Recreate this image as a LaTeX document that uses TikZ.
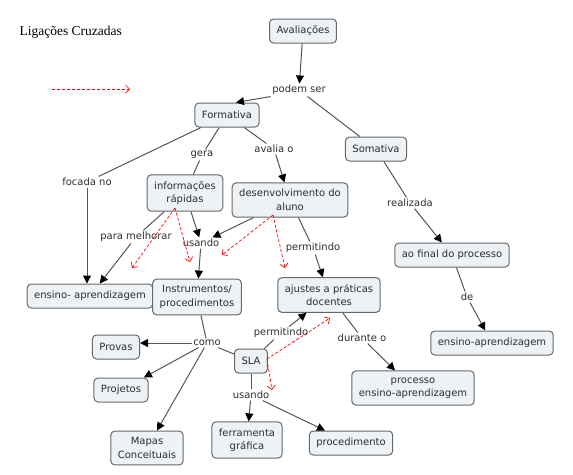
\documentclass[tikz,border=0pt]{standalone}
\usepackage{fontspec}
\setmainfont{DejaVu Sans}
\newfontfamily\titlefont{Liberation Serif}
\usetikzlibrary{arrows.meta}
\definecolor{cmapfill}{RGB}{236,242,245}
\definecolor{cmapline}{RGB}{105,105,105}
\definecolor{cmapedge}{RGB}{85,85,85}
\definecolor{cmaptext}{RGB}{45,45,45}
\tikzset{
	concept/.style = {draw=cmapline, fill=cmapfill, rounded corners=4pt, line width=1pt,
	 align=center, inner xsep=7pt, inner ysep=6.5pt, minimum height=24pt, text=cmaptext,
	 font=\fontsize{10}{13.5}\selectfont}}
\tikzset{
	linkword/.style = {inner sep=1.5pt, text=cmaptext, font=\fontsize{10}{12}\selectfont},
	link/.style = {draw=cmapedge, line width=1pt},
	linkto/.style = {link, -{Triangle[length=8pt, width=8pt, color=black]}},
	crosslink/.style = {draw=red, line width=0.7pt, dash pattern=on 3pt off 2pt,
	 -{Straight Barb[length=4pt, width=8pt]}}}

\begin{document}
\begin{tikzpicture}[x=1pt, y=-1pt]
\useasboundingbox (0,0) rectangle (573,474);

% NODES
% title and legend
\node (title) [anchor=west, font=\titlefont\fontsize{13.5}{16}\selectfont] at (16,32) {Ligações Cruzadas};
\coordinate (legstart) at (52,89);
\coordinate (legend) at (130,89);
% top
\node (avaliacoes) [concept] at (303,31) {Avaliações};
\node (podem) [linkword] at (299,90) {podem ser};
\node (formativa) [concept] at (227,115) {Formativa};
\node (somativa) [concept] at (376,149) {Somativa};
% formativa branch
\node (focada) [linkword] at (87,182) {focada no};
\node (gera) [linkword] at (202,155) {gera};
\node (avalia) [linkword] at (274,149) {avalia o};
\node (info) [concept] at (185,193) {informações\\rápidas};
\node (desenv) [concept] at (290,200) {desenvolvimento do\\aluno};
\node (melhorar) [linkword] at (136,237) {para melhorar};
\node (usandoA) [linkword] at (201,243) {usando};
\node (permitA) [linkword] at (313,248) {permitindo};
\node (ensinoL) [concept] at (90,296) {ensino- aprendizagem};
\node (instrum) [concept] at (197,297) {Instrumentos/\\procedimentos};
\node (ajustes) [concept] at (329,295) {ajustes a práticas\\docentes};
% somativa branch
\node (realizada) [linkword] at (410,203) {realizada};
\node (final) [concept] at (452,255) {ao final do processo};
\node (de) [linkword] at (467,297) {de};
\node (ensinoR) [concept] at (492,343) {ensino-aprendizagem};
% lower part
\node (permitB) [linkword] at (281,333) {permitindo};
\node (durante) [linkword] at (362,338) {durante o};
\node (como) [linkword] at (207,343) {como};
\node (provas) [concept] at (116,347) {Provas};
\node (sla) [concept] at (251,361) {SLA};
\node (processo) [concept] at (413,388) {processo\\ensino-aprendizagem};
\node (projetos) [concept] at (121,390) {Projetos};
\node (usandoB) [linkword] at (251,395) {usando};
\node (mapas) [concept] at (147,448) {Mapas\\Conceituais};
\node (ferramenta) [concept] at (247,440) {ferramenta\\gráfica};
\node (procedimento) [concept] at (351,443) {procedimento};
% cross link ends
\coordinate (infoX) at (175,208);
\coordinate (infoXa) at (132,268);
\coordinate (infoXb) at (190,262);
\coordinate (desenvX) at (273,215);
\coordinate (desenvXa) at (222,255);
\coordinate (desenvXb) at (285,268);
\coordinate (slaX) at (267,359);
\coordinate (slaXa) at (330,318);
\coordinate (slaXb) at (272,390);

%CONNECTIONS
\draw [linkto] (avaliacoes) -- (podem);
\draw [linkto] (podem.south west) -- ([xshift=9pt]formativa.north);
\draw [link] (podem) -- (somativa);
\draw [link] (formativa) -- (focada);
\draw [linkto] (focada) -- (focada |- ensinoL.north);
\draw [link] (formativa) -- (gera);
\draw [link] (gera) -- (info);
\draw [link] (formativa) -- (avalia);
\draw [linkto] (avalia) -- (desenv);
\draw [link] (info) -- (melhorar);
\draw [linkto] (melhorar) -- (ensinoL);
\draw [linkto] (info) -- (usandoA);
\draw [linkto] (desenv) -- (usandoA);
\draw [linkto] (usandoA) -- (instrum);
\draw [link] (desenv) -- (permitA);
\draw [linkto] (permitA) -- (ajustes);
\draw [link] (somativa) -- (realizada);
\draw [linkto] (realizada) -- (final);
\draw [link] (final) -- (de);
\draw [linkto] (de) -- (ensinoR);
\draw [link] (ajustes) -- (durante);
\draw [linkto] (durante) -- (processo);
\draw [link] (instrum) -- (como);
\draw [linkto] (como.west) -- ([yshift=4pt]provas.east);
\draw [linkto] (como) -- (projetos);
\draw [linkto] (como) -- (mapas);
\draw [link] (como) -- (sla);
\draw [link] (sla) -- (permitB);
\draw [linkto] (permitB) -- (ajustes);
\draw [link] (sla) -- (usandoB);
\draw [linkto] (usandoB) -- (ferramenta);
\draw [linkto] (usandoB) -- (procedimento);
% cross links
\draw [crosslink] (legstart) -- (legend);
\draw [crosslink] (infoX) -- (infoXa);
\draw [crosslink] (infoX) -- (infoXb);
\draw [crosslink] (desenvX) -- (desenvXa);
\draw [crosslink] (desenvX) -- (desenvXb);
\draw [crosslink] (slaX) -- (slaXa);
\draw [crosslink] (slaX) -- (slaXb);

\end{tikzpicture}
\end{document}
